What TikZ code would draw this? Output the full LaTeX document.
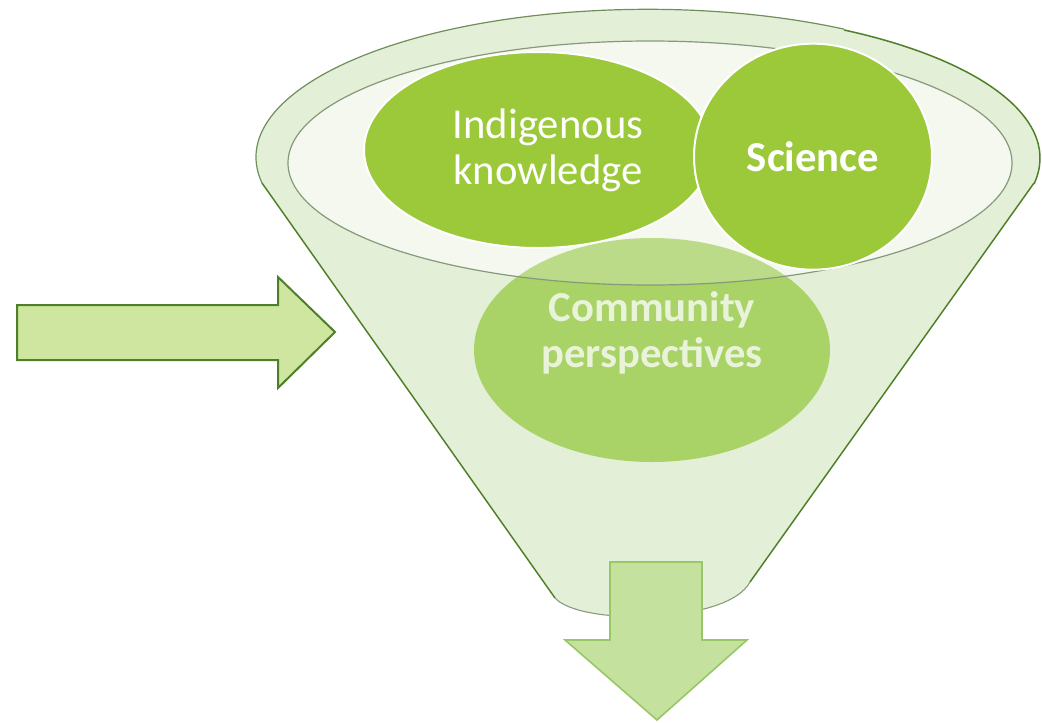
\documentclass[tikz,border=0pt]{standalone}
\usepackage{fontspec}
\setmainfont{Carlito}
\usepackage{tikz}
\usetikzlibrary{positioning, shapes.geometric}

\definecolor{leaf}{HTML}{9BC93A}
\definecolor{funnelline}{HTML}{4F7F28}
\definecolor{rimline}{HTML}{6F8F5A}
\definecolor{innerline}{HTML}{86997A}
\definecolor{bodyfill}{HTML}{E3EFD6}
\definecolor{innerfill}{HTML}{F1F7EA}
\definecolor{commfill}{HTML}{A9D267}
\definecolor{commtext}{HTML}{E9F3DA}
\definecolor{arrowfill}{HTML}{CFE6A0}
\definecolor{downfill}{HTML}{C5E19E}
\definecolor{downline}{HTML}{97C766}

\begin{document}
\begin{tikzpicture}[
    x=0.75pt, y=-0.75pt,
    blob/.style={ellipse, draw=white, line width=1.5pt, fill=leaf, text=white, inner sep=0pt, align=center, font=\fontsize{32}{34.5}\selectfont},
    cblob/.style={ellipse, fill=commfill, inner sep=0pt},
    ctext/.style={align=center, text=commtext, font=\bfseries\fontsize{32}{34.5}\selectfont},
    inarrow/.style={draw=funnelline, line width=1.5pt, fill=arrowfill, line join=miter},
    outarrow/.style={draw=downline, line width=1.2pt, fill=downfill},
]
\useasboundingbox (0,0) rectangle (1042,722);

% Draw the funnel body
\fill[bodyfill] (555,598) -- (262,183) arc[start angle=170, end angle=370, x radius=392, y radius=148] -- (750,582) .. controls (728,624) and (580,626) .. cycle;
\draw[funnelline, line width=1.1pt] (262,183) -- (555,598);
\draw[funnelline, line width=1.1pt] (750,582) -- (1034,183);
\draw[innerline, line width=0.8pt] (555,598) .. controls (580,626) and (728,624) .. (750,582);

% Draw the rim
\draw[rimline, line width=0.9pt] (262,183) arc[start angle=170, end angle=300, x radius=392, y radius=148];
\draw[funnelline, line width=1.1pt] (844,30) arc[start angle=300, end angle=370, x radius=392, y radius=148];
\fill[innerfill] (650,163) ellipse [x radius=362, y radius=122];

% Draw the community perspectives
\node[cblob, minimum width=267pt, minimum height=168pt] (comm) at (652,350) {};
\fill[white, opacity=0.22] (650,163) ellipse [x radius=362, y radius=122];
\draw[innerline, line width=0.9pt] (650,163) ellipse [x radius=362, y radius=122];
\node[ctext] (commtxt) at ([yshift=12.75pt]comm.center) {Community\\perspectives};

% Draw the knowledge systems
\node[blob, minimum width=261pt, minimum height=147pt] (ik) at (538,150) {\hspace*{15pt}Indigenous\\\hspace*{15pt}knowledge};
\node[blob, font=\bfseries\fontsize{32}{34.5}\selectfont, minimum width=178.5pt, minimum height=169.5pt, right=-15pt of ik, yshift=-5pt] (sci) {Science};

% Draw the arrows
\draw[inarrow] (17,305) -- (278,305) -- (278,277) -- (335,332) -- (278,388) -- (278,360) -- (17,360) -- cycle;
\draw[outarrow] (610,562) -- (702,562) -- (702,640) -- (747,640) -- (657,720) -- (565,640) -- (610,640) -- cycle;

\end{tikzpicture}
\end{document}
